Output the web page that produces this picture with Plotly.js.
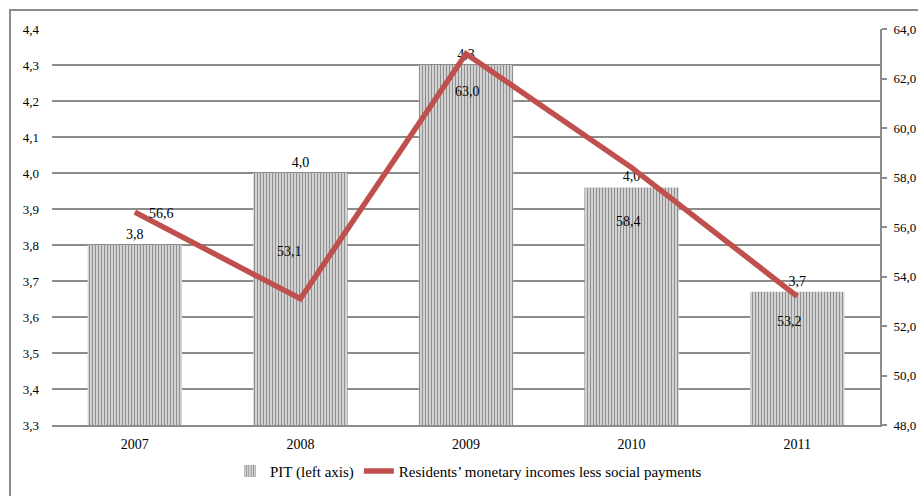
<!DOCTYPE html>
<html><head><meta charset="utf-8">
<script src="https://cdn.plot.ly/plotly-3.0.1.min.js"></script>
<style>
body{margin:0;padding:0;background:#fff;}
#wrap{position:relative;width:918px;height:496px;overflow:hidden;}
#chart{position:absolute;left:0;top:0;width:918px;height:496px;}
#frame{position:absolute;left:9px;top:9px;width:940px;height:520px;border:2px solid #8c8c8c;pointer-events:none;}
</style></head>
<body>
<div id="wrap"><div id="chart"></div><div id="frame"></div></div>
<script>
const years = ['2007','2008','2009','2010','2011'];
const pit = [3.80, 4.00, 4.30, 3.96, 3.67];
const incomes = [56.6, 53.1, 63.0, 58.4, 53.2];
const pitName = 'PIT (left axis)';
const incomeName = 'Residents\u2019 monetary incomes less social payments';
const leftTicks = [3.3,3.4,3.5,3.6,3.7,3.8,3.9,4.0,4.1,4.2,4.3,4.4];
const rightTicks = [48,50,52,54,56,58,60,62,64];

const fmt = v => v.toFixed(1).replace('.', ',');
const labelShift = [[27,-1],[-11,47],[1,-38],[-3,-54],[-8,-25]];

const serif = 'Liberation Serif, Times New Roman, serif';

const traces = [
  {
    type:'bar', x:years, y:pit, name:pitName, yaxis:'y',
    text: pit.map(fmt), textposition:'outside', cliponaxis:false,
    textfont:{family:serif,size:14,color:'#000'},
    marker:{color:'#ffffff', line:{width:0},
      pattern:{shape:'|', fgcolor:'#8f8f8f', bgcolor:'#ffffff', size:3, solidity:0.6}},
    hoverinfo:'x+y'
  },
  {
    type:'scatter', mode:'lines', x:years, y:incomes, name:incomeName, yaxis:'y2',
    line:{color:'#c0504d', width:5.5}, cliponaxis:false
  }
];

const annotations = years.map((yr,i)=>({
  x: i, y: incomes[i], xref:'x', yref:'y2', text: fmt(incomes[i]),
  showarrow:false, xshift:labelShift[i][0], yshift:labelShift[i][1],
  font:{family:serif,size:14,color:'#000'}
}));

const layout = {
  width:918, height:496,
  margin:{l:52, r:38, t:29, b:71, autoexpand:false},
  paper_bgcolor:'#fff', plot_bgcolor:'#fff',
  separators:', ',
  showlegend:true,
  bargap:0.43,
  xaxis:{type:'category', range:[-0.5, years.length-0.5], autorange:false,
    showgrid:false, showline:true, linecolor:'#8c8c8c', linewidth:2,
    ticks:'', ticklabelstandoff:5, tickfont:{family:serif,size:14,color:'#000'}, zeroline:false},
  yaxis:{range:[3.3,4.4], autorange:false, tickvals:leftTicks, tickformat:'.1f', showgrid:true,
    gridcolor:'#8c8c8c', gridwidth:2, showline:false, zeroline:false, ticks:'',
    ticklabelstandoff:12,
    tickfont:{family:serif,size:13,color:'#000'}},
  yaxis2:{range:[48,64], autorange:false, tickvals:rightTicks, tickformat:'.1f', overlaying:'y', side:'right',
    showgrid:false, showline:true, linecolor:'#8c8c8c', linewidth:2, ticks:'outside',
    ticklen:5, tickcolor:'#8c8c8c', tickwidth:2, zeroline:false, ticklabelstandoff:4,
    tickfont:{family:serif,size:13,color:'#000'}},
  legend:{orientation:'h', x:0.503, xanchor:'center', yref:'container', y:0.05, yanchor:'middle',
    font:{family:serif,size:15,color:'#000'}, traceorder:'normal', bgcolor:'rgba(0,0,0,0)'},
  annotations: annotations
};

Plotly.newPlot('chart', traces, layout, {displayModeBar:false, staticPlot:true});
</script>
</body></html>
